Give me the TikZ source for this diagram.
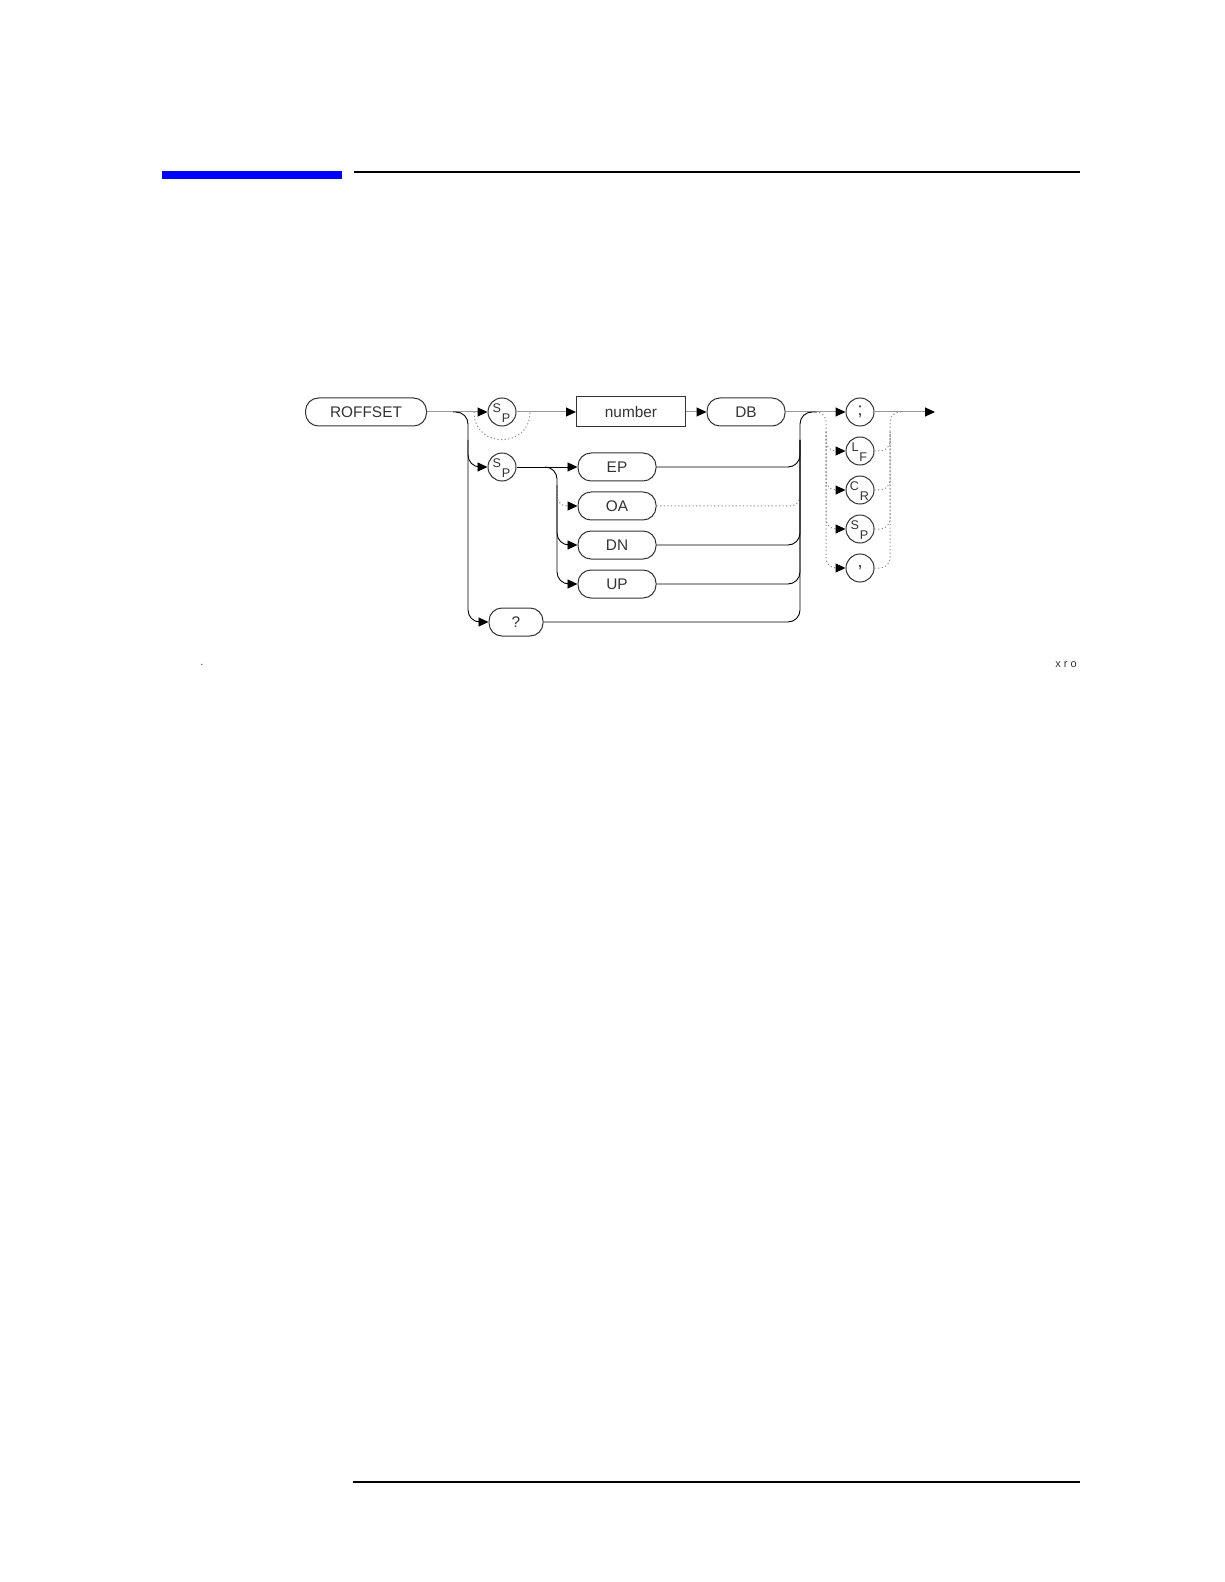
\documentclass[tikz,border=0pt]{standalone}
\usepackage{fontspec}
\setmainfont{Liberation Sans}
\usepackage{tikz}
\usetikzlibrary{arrows.meta}

\newcommand{\pair}[2]{\smash{\fontsize{6.3}{7}\selectfont\raisebox{-0.5pt}{#1}\kern0.4pt\raisebox{-5.5pt}{#2}\kern0.6pt}}

\begin{document}
\begin{tikzpicture}[x=0.5pt,y=-0.5pt,
        >={Triangle[length=5pt,width=4.5pt,color=black]},
        every node/.style={font=\fontsize{7.7}{9}\selectfont,text=black!80},
        keyword/.style={draw=black!80,line width=0.5pt,rounded corners=6.5pt,minimum height=14pt,inner sep=0pt},
        param/.style={draw=black!80,line width=0.5pt,minimum height=15pt,inner sep=0pt},
        ch/.style={draw=black!80,circle,line width=0.5pt,minimum size=14pt,inner sep=0pt},
        main/.style={line width=0.5pt,draw=black!40},
        branch/.style={line width=0.45pt,rounded corners=6pt},
        opt/.style={line width=0.5pt,draw=black!45,dash pattern=on 0.6pt off 1.2pt,rounded corners=5pt}]
    \useasboundingbox (0,0) rectangle (1224,1582);
    % page rules
    \fill[blue] (162,171) rectangle (342,179);
    \draw[line width=1pt] (354,172) -- (1080,172);
    \draw[line width=1pt] (353,1482) -- (1080,1482);
    % syntax elements
    \node[keyword,minimum width=60.5pt] (roffset) at (366,412) {ROFFSET};
    \node[ch] (sp1) at (502,412) {\pair SP};
    \node[param,minimum width=54.5pt] (number) at (631,412) {number};
    \node[keyword,minimum width=39pt] (db) at (746,412) {DB};
    \node[ch,font=\fontsize{9}{10}\selectfont] (semi) at (860,412) {;};
    \node[ch] (lf) at (860,451) {\pair LF};
    \node[ch] (cr) at (860,490) {\pair CR};
    \node[ch] (sp3) at (860,529) {\pair SP};
    \node[ch,font=\fontsize{9}{10}\selectfont] (comma) at (860,568) {,};
    \node[ch] (sp2) at (502,467) {\pair SP};
    \node[keyword,minimum width=39pt] (ep) at (617,467) {EP};
    \node[keyword,minimum width=39pt] (oa) at (617,506) {OA};
    \node[keyword,minimum width=39pt] (dn) at (617,545) {DN};
    \node[keyword,minimum width=39pt] (up) at (617,584) {UP};
    \node[keyword,minimum width=27pt] (query) at (516,622) {?};
    \coordinate (out) at (935,412);
    % rails and taps
    \coordinate (split) at (453,412);
    \coordinate (railL) at (468,412);
    \coordinate (tapL) at (468,440);
    \coordinate (skipA) at (474,412);
    \coordinate (skipB) at (530,412);
    \coordinate (splitS) at (545,467);
    \coordinate (railS) at (557,467);
    \coordinate (tapS) at (557,485);
    \coordinate (railR) at (800,412);
    \coordinate (tapR) at (800,440);
    \coordinate (joinR) at (817,412);
    \coordinate (optL) at (812,412);
    \coordinate (railD) at (826,412);
    \coordinate (tapD) at (826,432);
    \coordinate (railE) at (890,412);
    \coordinate (tapE) at (890,432);
    \coordinate (optR) at (903,412);
    % main line
    \draw[main,->] (roffset) -- (sp1);
    \draw[main,->] (sp1) -- (number);
    \draw[main,->] (number) -- (db);
    \draw[main,->] (db) -- (semi);
    \draw[main,->] (semi) -- (out);
    \draw[opt] (skipA) .. controls +(0,37) and +(0,37) .. (skipB);
    % branches on the left
    \draw[branch,->] (split) -| (railL |- query) -- (query);
    \draw[branch,->] (tapL) |- (sp2);
    \draw[branch,->] (sp2) -- (ep);
    \draw[branch,->] (splitS) -| (railS |- up) -- (up);
    \draw[branch,->] (tapS) |- (dn);
    \draw[opt,->] (tapS) |- (oa);
    % collector on the right
    \draw[branch] (query) -| (railR) -- (joinR);
    \draw[branch] (ep) -| (tapR);
    \draw[opt] (oa) -| (tapR);
    \draw[branch] (dn) -| (tapR);
    \draw[branch] (up) -| (tapR);
    % terminators
    \draw[opt,->] (optL) -| (railD |- comma) -- (comma);
    \draw[opt,->] (tapD) |- (lf);
    \draw[opt,->] (tapD) |- (cr);
    \draw[opt,->] (tapD) |- (sp3);
    \draw[opt] (comma) -| (railE) -- (optR);
    \draw[opt] (lf) -| (tapE);
    \draw[opt] (cr) -| (tapE);
    \draw[opt] (sp3) -| (tapE);
    % figure marks
    \node[font=\fontsize{5.5}{6}\selectfont] (dot) at (202,665) {.};
    \node[font=\fontsize{5.5}{6}\selectfont] (xro) at (1066,665) {x\kern1.5pt r\kern1.5pt o};
\end{tikzpicture}
\end{document}
